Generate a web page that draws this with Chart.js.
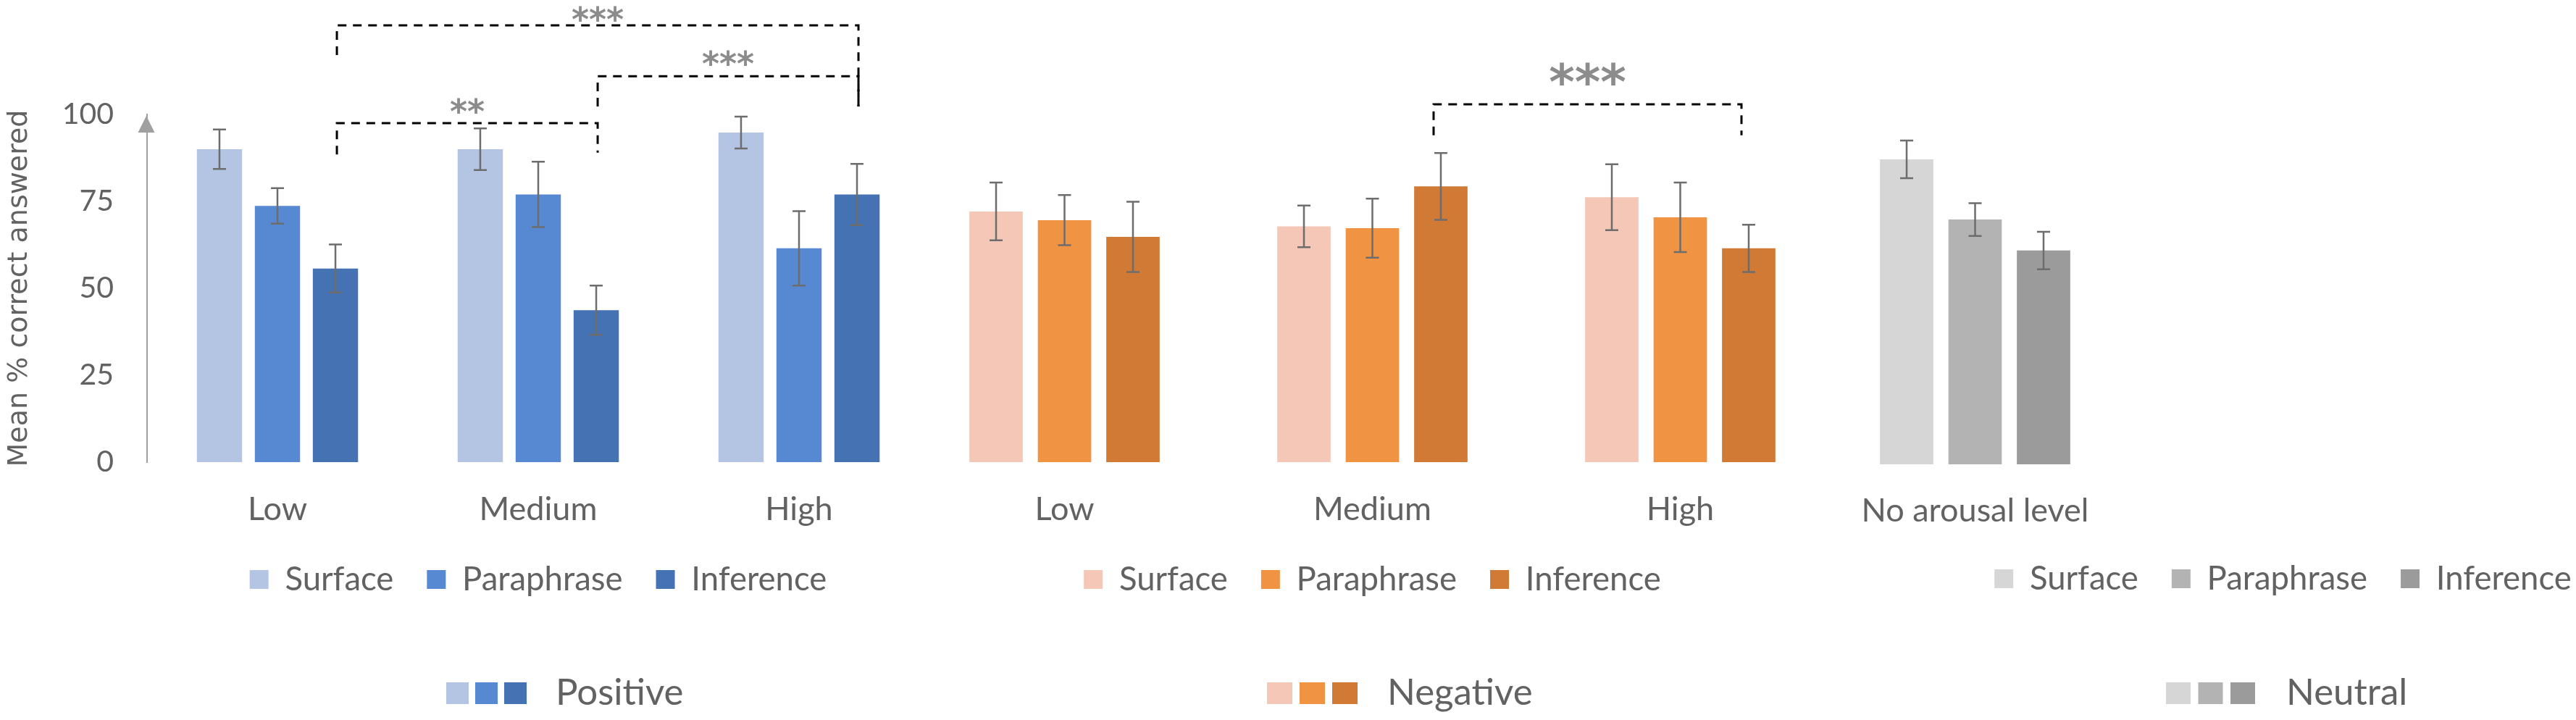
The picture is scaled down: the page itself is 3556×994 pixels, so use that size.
<!DOCTYPE html>
<html>
<head>
<meta charset="utf-8">
<title>Mean % correct answered by arousal level</title>
<script src="https://cdn.jsdelivr.net/npm/chart.js@4.4.1/dist/chart.umd.min.js"></script>
<style>
  html, body { margin: 0; padding: 0; background: #fff; }
  body { width: 3556px; height: 994px; overflow: hidden; position: relative; }
  canvas { position: absolute; }
</style>
</head>
<body>
<canvas id="posChart" width="1283" height="994" style="left:0;top:0"></canvas>
<canvas id="negChart" width="1275" height="994" style="left:1257px;top:0"></canvas>
<canvas id="neuChart" width="1275" height="994" style="left:2514px;top:3px"></canvas>
<script>
// categories and series
const arousalLabels = ['Low', 'Medium', 'High'];
const neutralLabels = ['No arousal level'];
const seriesNames = ['Surface', 'Paraphrase', 'Inference'];
const groupNames = ['Positive', 'Negative', 'Neutral'];
const yTicks = [0, 25, 50, 75, 100];

// mean % correct answered
const posSurface = [90.0, 90.0, 94.8];
const posParaphrase = [73.7, 77.0, 61.5];
const posInference = [55.7, 43.7, 77.0];
const negSurface = [72.1, 67.8, 76.2];
const negParaphrase = [69.6, 67.3, 70.4];
const negInference = [64.8, 79.3, 61.5];
const neuSurface = [87.7];
const neuParaphrase = [70.4];
const neuInference = [61.5];

// error bar half lengths
const posSurfaceErr = [5.7, 6.0, 4.6];
const posParaphraseErr = [5.1, 9.4, 10.7];
const posInferenceErr = [6.9, 7.1, 8.8];
const negSurfaceErr = [8.3, 6.0, 9.5];
const negParaphraseErr = [7.2, 8.5, 10.0];
const negInferenceErr = [10.1, 9.6, 6.8];
const neuSurfaceErr = [5.4];
const neuParaphraseErr = [4.7];
const neuInferenceErr = [5.4];

// significance between Inference bars: [from category, to category, stars]
const posSig = [[0, 2, '***'], [0, 1, '**'], [1, 2, '***']];
const negSig = [[1, 2, '***']];

const textColor = '#626262';
const posColors = ['#B4C5E4', '#5689D1', '#4472B2'];
const negColors = ['#F4C7B6', '#F09443', '#D07A35'];
const neuColors = ['#D6D6D6', '#B3B3B3', '#9B9B9B'];

// error bars on every bar
const errorBars = {
    id: 'errorBars',
    afterDatasetsDraw(chart) {
        const ctx = chart.ctx
        const y = chart.scales.y
        ctx.save()
        ctx.strokeStyle = '#6d6d6d'
        ctx.lineWidth = 2.5
        chart.data.datasets.forEach((ds, i) => {
            chart.getDatasetMeta(i).data.forEach((bar, j) => {
                const top = y.getPixelForValue(ds.data[j] + ds.errors[j])
                const bot = y.getPixelForValue(ds.data[j] - ds.errors[j])
                ctx.beginPath()
                ctx.moveTo(bar.x, top); ctx.lineTo(bar.x, bot)
                ctx.moveTo(bar.x - 9, top); ctx.lineTo(bar.x + 9, top)
                ctx.moveTo(bar.x - 9, bot); ctx.lineTo(bar.x + 9, bot)
                ctx.stroke()
            })
        })
        ctx.restore()
    }
};

// dashed brackets with stars; geometry in axis units
function brackets(pairs, geo, dx) {
    return {
        id: 'brackets',
        afterDraw(chart) {
            const ctx = chart.ctx
            const y = chart.scales.y
            const bars = chart.getDatasetMeta(2).data
            pairs.forEach(([a, b, stars], k) => {
                const g = geo[k]
                const x1 = bars[a].x + dx, x2 = bars[b].x + dx
                const yBar = y.getPixelForValue(g.bar)
                ctx.save()
                ctx.strokeStyle = '#000'
                ctx.lineWidth = 3
                ctx.setLineDash([12, 9])
                ctx.beginPath()
                ctx.moveTo(x1, y.getPixelForValue(g.left))
                ctx.lineTo(x1, yBar)
                ctx.lineTo(x2, yBar)
                ctx.lineTo(x2, y.getPixelForValue(g.right))
                ctx.stroke()
                ctx.setLineDash([])
                ctx.font = 'bold ' + g.size + 'px "DejaVu Sans"'
                ctx.fillStyle = '#8c8c8c'
                ctx.textAlign = 'center'
                ctx.textBaseline = 'alphabetic'
                const m = ctx.measureText(stars)
                const cy = y.getPixelForValue(g.text)
                ctx.fillText(stars, (x1 + x2) / 2, cy + (m.actualBoundingBoxAscent - m.actualBoundingBoxDescent) / 2)
                ctx.restore()
            })
        }
    };
}

// small key under each chart: three squares + group name
function groupKey(name, key) {
    return {
        id: 'groupKey',
        afterDraw(chart) {
            const ctx = chart.ctx
            ctx.save()
            chart.data.datasets.forEach((ds, i) => {
                ctx.fillStyle = ds.backgroundColor
                ctx.fillRect(key.x + i * key.step, key.cy - 15, key.w, 30)
            })
            ctx.fillStyle = textColor
            ctx.font = '51px Lato'
            ctx.textAlign = 'left'
            ctx.textBaseline = 'middle'
            ctx.fillText(name, key.textX, key.cy)
            ctx.restore()
        }
    };
}

// y axis arrow head
const axisArrow = {
    id: 'axisArrow',
    afterDraw(chart) {
        const ctx = chart.ctx
        const x = chart.scales.y.right - 1
        const top = chart.chartArea.top + 2
        ctx.save()
        ctx.fillStyle = '#a0a0a0'
        ctx.beginPath()
        ctx.moveTo(x, top)
        ctx.lineTo(x - 11.5, top + 23)
        ctx.lineTo(x + 11.5, top + 23)
        ctx.closePath()
        ctx.fill()
        ctx.restore()
    }
};

function makeChart(id, labels, values, errors, colors, opt) {
    const yScale = {
        display: opt.showY,
        min: 0,
        max: 100,
        grid: { display: false, drawTicks: false },
        border: { display: true, color: '#a0a0a0', width: 2 },
        ticks: {
            stepSize: 25,
            padding: 46,
            color: textColor,
            font: { family: 'Lato', size: 41 },
            callback: (v) => yTicks.includes(v) ? v : ''
        },
        title: {
            display: true,
            text: 'Mean % correct answered',
            color: textColor,
            padding: { top: 4, bottom: 0 },
            font: { family: 'DejaVu Sans', size: 38 }
        }
    }
    if (opt.showY) yScale.afterFit = (s) => { s.width = 203 }

    return new Chart(document.getElementById(id), {
        type: 'bar',
        data: {
            labels: labels,
            datasets: seriesNames.map((name, i) => ({
                label: name,
                data: values[i],
                errors: errors[i],
                backgroundColor: colors[i],
                categoryPercentage: 0.667,
                barPercentage: 0.78
            }))
        },
        options: {
            responsive: false,
            animation: false,
            events: [],
            layout: { padding: { top: 158, bottom: opt.padBottom, left: 0, right: 0 } },
            scales: {
                x: {
                    grid: { display: false, drawTicks: false },
                    border: { display: false },
                    ticks: { color: textColor, padding: opt.tickPad, font: { family: 'Lato', size: 45 } },
                    afterFit: (s) => { s.height = opt.xHeight }
                },
                y: yScale
            },
            plugins: {
                tooltip: { enabled: false },
                legend: {
                    position: 'bottom',
                    fullSize: false,
                    labels: {
                        boxWidth: 26,
                        boxHeight: 26,
                        padding: 46,
                        color: textColor,
                        font: { family: 'Lato', size: 45.5 }
                    }
                }
            }
        },
        plugins: opt.plugins
    });
}

makeChart('posChart', arousalLabels,
    [posSurface, posParaphrase, posInference],
    [posSurfaceErr, posParaphraseErr, posInferenceErr],
    posColors,
    {
        showY: true, padBottom: 161.25, xHeight: 93.25, tickPad: 38,
        plugins: [errorBars, axisArrow,
            brackets(posSig, [
                { bar: 125.6, left: 117.1, right: 102.3, text: 129.0, size: 46 },
                { bar: 97.5, left: 88.5, right: 89.0, text: 102.5, size: 46 },
                { bar: 111.0, left: 102.3, right: 102.3, text: 116.3, size: 46 }
            ], 2),
            groupKey(groupNames[0], { x: 616, step: 40, w: 31, cy: 957, textX: 767 })]
    });

makeChart('negChart', arousalLabels,
    [negSurface, negParaphrase, negInference],
    [negSurfaceErr, negParaphraseErr, negInferenceErr],
    negColors,
    {
        showY: false, padBottom: 161.25, xHeight: 93.25, tickPad: 38,
        plugins: [errorBars,
            brackets(negSig, [
                { bar: 102.9, left: 94.0, right: 94.0, text: 111.7, size: 68 }
            ], -10),
            groupKey(groupNames[1], { x: 492, step: 45, w: 35, cy: 957, textX: 658 })]
    });

// neutral chart keeps the same category width as the others (two empty slots)
makeChart('neuChart', [...neutralLabels, '', ''],
    [neuSurface, neuParaphrase, neuInference],
    [neuSurfaceErr, neuParaphraseErr, neuInferenceErr],
    neuColors,
    {
        showY: false, padBottom: 165.25, xHeight: 89.25, tickPad: 37,
        plugins: [errorBars,
            groupKey(groupNames[2], { x: 476, step: 44.5, w: 34, cy: 954, textX: 642 })]
    });
</script>
</body>
</html>
